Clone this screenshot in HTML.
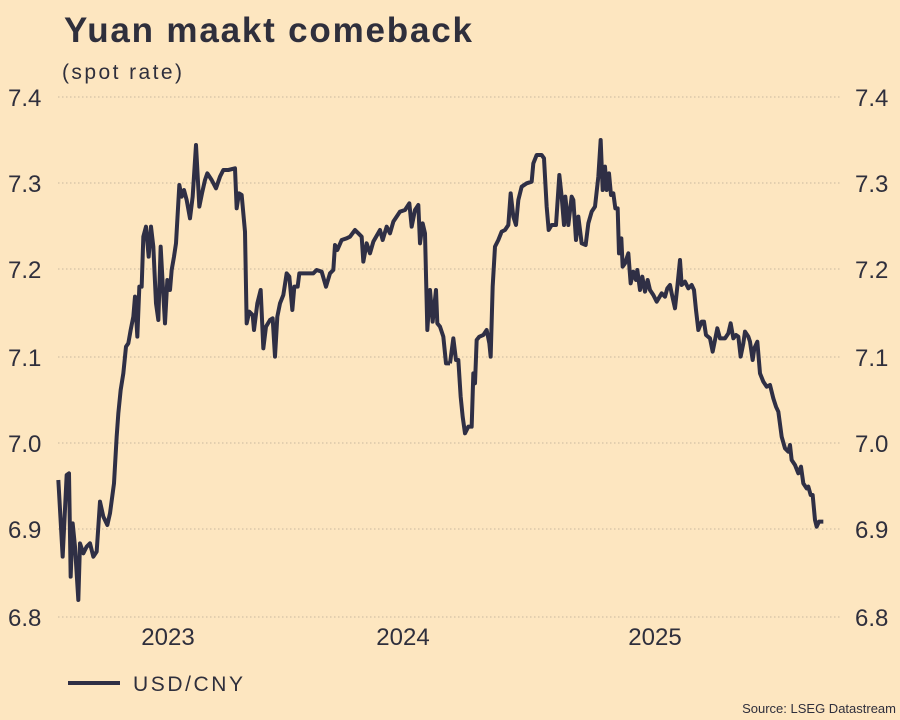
<!DOCTYPE html>
<html><head><meta charset="utf-8"><style>
body{margin:0;background:#fde6c0;}
svg{display:block;font-family:"Liberation Sans",sans-serif;}
</style></head><body>
<svg width="900" height="720" viewBox="0 0 900 720">
<rect width="900" height="720" fill="#fde6c0"/>
<text x="64" y="42" font-size="35" font-weight="bold" fill="#2f2f3c" textLength="408" lengthAdjust="spacing">Yuan maakt comeback</text>
<text x="62" y="79" font-size="21" fill="#2f2f3c" textLength="120" lengthAdjust="spacing">(spot rate)</text>
<g stroke="#c8b89e" stroke-width="1" stroke-dasharray="1.5,2.5">
<line x1="58" x2="842" y1="97" y2="97"/><line x1="58" x2="842" y1="183" y2="183"/>
<line x1="58" x2="842" y1="269" y2="269"/><line x1="58" x2="842" y1="357" y2="357"/>
<line x1="58" x2="842" y1="443" y2="443"/><line x1="58" x2="842" y1="529" y2="529"/>
<line x1="58" x2="842" y1="617" y2="617"/>
</g>
<g font-size="24" fill="#2f2f3c">
<text x="8" y="106">7.4</text><text x="8" y="192">7.3</text><text x="8" y="278">7.2</text><text x="8" y="366">7.1</text><text x="8" y="452">7.0</text><text x="8" y="538">6.9</text><text x="8" y="626">6.8</text>
<text x="855" y="106">7.4</text><text x="855" y="192">7.3</text><text x="855" y="278">7.2</text><text x="855" y="366">7.1</text><text x="855" y="452">7.0</text><text x="855" y="538">6.9</text><text x="855" y="626">6.8</text>
<text x="168" y="645" text-anchor="middle">2023</text><text x="403" y="645" text-anchor="middle">2024</text><text x="655" y="645" text-anchor="middle">2025</text>
</g>
<g fill="none" stroke="#2f2f45" stroke-width="4" stroke-linejoin="round">
<path transform="translate(50,130) scale(0.33333)" vector-effect="non-scaling-stroke" d="M25,1050 L38,1280 50,1035 57,1030 62,1340 68,1180 75,1250 85,1410 90,1240 100,1270 110,1250 120,1240 130,1280 140,1265 150,1115 160,1160 172,1185 180,1150 192,1060 200,920 205,850 212,780 220,730 228,650 235,640 242,600 250,560 255,500 262,620 268,470 275,470 280,320 288,290 296,380 303,290 310,350 318,520 325,570 332,350 338,460 345,580 352,450 360,480 365,420 372,380 378,340 388,165 395,200 402,180 410,210 420,265 428,200 438,45 448,230 456,190 465,150 472,130 485,150 498,175 510,140 520,120 535,120 555,115 560,235 567,190 575,195 585,305 590,580 598,545 608,555 612,600 622,520 632,480 640,655 648,590 660,570 668,565 675,680 682,560 690,520 700,495 710,430 718,440 727,540 733,470 743,470 748,430 765,430 790,430 800,420 815,425 828,470 840,430 850,420 855,345 862,360 875,330 890,325 900,320 915,300 925,310 935,320 940,395 950,340 960,370 970,335 990,300 998,330 1010,290 1020,310 1030,275 1050,245 1065,240 1078,220 1085,290 1095,240 1105,225 1110,340 1118,280 1125,310 1132,600 1140,480 1148,575 1158,480 1162,580 1170,590 1180,620 1188,700 1200,700"/>
<path transform="translate(420,130) scale(0.33333)" vector-effect="non-scaling-stroke" d="M90,700 L100,625 108,690 115,690 122,800 128,860 135,910 145,890 155,890 160,730 165,760 170,630 178,620 190,615 200,600 208,640 212,680 218,470 225,350 235,330 245,305 255,300 265,285 272,190 280,260 288,285 295,210 305,170 320,160 335,155 340,100 350,75 365,75 372,85 380,230 386,300 395,285 408,285 418,135 425,200 432,285 436,200 445,285 455,200 460,210 468,330 475,260 485,340 497,345 505,280 515,245 525,230 535,140 542,30 548,180 555,110 560,180 567,130 573,195 580,190 586,235 593,235 597,370 604,325 608,410 615,400 625,370 632,460 640,425 648,450 652,420 660,480 667,440 675,485 683,450 690,480 700,495 710,515 725,490 735,500 742,475 750,465 755,490 765,535 772,470 780,390 785,465 795,455 805,475 815,465 822,480 828,540 835,600 845,575 852,575 858,615 870,625 878,665 885,630 892,595 900,625 915,625 925,610 932,580 940,625 948,615 955,620 962,680 970,640 975,605 985,620 990,635 998,690 1003,655 1012,635 1020,730 1030,755 1040,770 1050,765 1060,805 1068,830 1075,845 1085,920 1095,955 1105,965 1110,945 1115,990 1125,1005 1135,1030 1143,1010 1150,1060 1160,1075 1165,1070 1172,1095 1178,1095 1185,1170 1190,1190 1197,1175 1210,1175"/>
</g>
<line x1="68" x2="120" y1="683" y2="683" stroke="#2f2f45" stroke-width="4"/>
<text x="133" y="691" font-size="21" fill="#2f2f3c" textLength="110" lengthAdjust="spacing">USD/CNY</text>
<text x="896" y="713" font-size="13" fill="#2f2f3c" text-anchor="end">Source: LSEG Datastream</text>
</svg>
</body></html>
